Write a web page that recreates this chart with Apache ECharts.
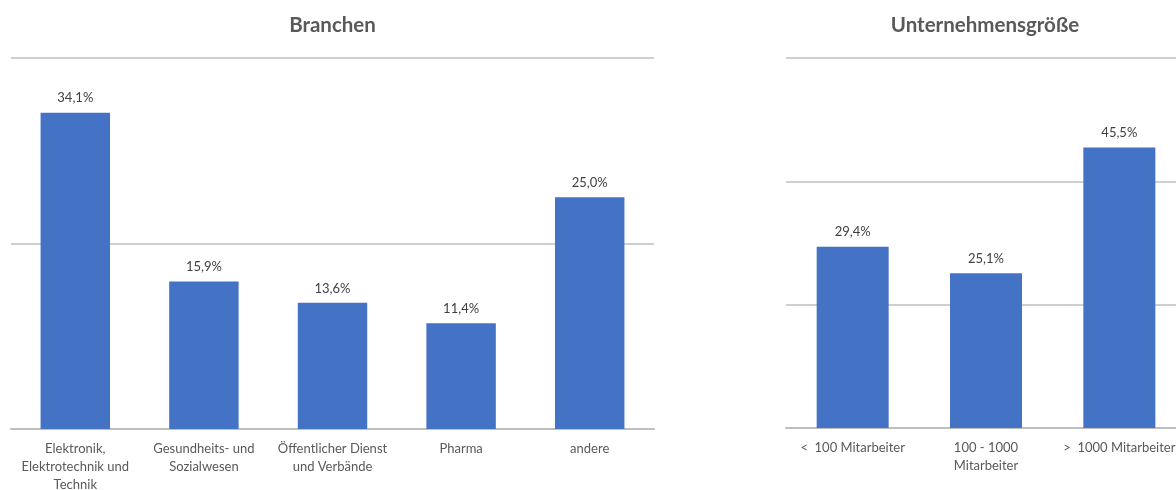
<!DOCTYPE html>
<html><head><meta charset="utf-8">
<script src="https://cdn.jsdelivr.net/npm/echarts@6/dist/echarts.min.js"></script>
<style>html,body{margin:0;padding:0;background:#fff}#c{width:1176px;height:490px}</style>
</head><body><div id="c"></div>
<script>
const branchenCategories = ['Elektronik,\nElektrotechnik und\nTechnik', 'Gesundheits- und\nSozialwesen', 'Öffentlicher Dienst\nund Verbände', 'Pharma', 'andere'];
const branchenValues = [34.1, 15.9, 13.6, 11.4, 25.0];
const groesseCategories = ['<  100 Mitarbeiter', '100 - 1000\nMitarbeiter', '>  1000 Mitarbeiter'];
const groesseValues = [29.4, 25.1, 45.5];
const titles = ['Branchen', 'Unternehmensgröße'];

const FONT = 'Lato, "Liberation Sans", sans-serif';
const chart = echarts.init(document.getElementById('c'), null, {renderer: 'canvas'});
const fmt = p => p.value.toFixed(1).replace('.', ',') + '%';
const xAxisBase = (idx, data) => ({
  type: 'category', gridIndex: idx, data: data,
  axisLine: {lineStyle: {color: '#bfbfbf', width: 2}},
  axisTick: {show: false},
  axisLabel: {color: '#595959', fontSize: 13, fontFamily: FONT, lineHeight: 18, margin: 11, interval: 0}
});
const yAxisBase = (idx, max) => ({
  type: 'value', gridIndex: idx, min: 0, max: max, interval: 20,
  axisLabel: {show: false}, axisLine: {show: false}, axisTick: {show: false},
  splitLine: {lineStyle: {color: '#bfbfbf', width: 1.5}}
});
const barSeries = (idx, data) => ({
  type: 'bar', xAxisIndex: idx, yAxisIndex: idx, data: data,
  barWidth: '54%',
  itemStyle: {color: '#4472C4'},
  label: {show: true, position: 'top', distance: 8, formatter: fmt, color: '#404040', fontSize: 13, fontFamily: FONT}
});
chart.setOption({
  animation: false,
  title: [
    {text: titles[0], left: 327.5, top: 10, textAlign: 'center', textStyle: {color: '#595959', fontSize: 20.5, fontWeight: 'bold', fontFamily: FONT}},
    {text: titles[1], left: 980, top: 10, textAlign: 'center', textStyle: {color: '#595959', fontSize: 20.5, fontWeight: 'bold', fontFamily: FONT}}
  ],
  grid: [
    {left: 11, width: 643, top: 58, bottom: 61, outerBoundsMode: 'none', containLabel: false},
    {left: 786, width: 400, top: 58, bottom: 62, outerBoundsMode: 'none', containLabel: false}
  ],
  xAxis: [xAxisBase(0, branchenCategories), xAxisBase(1, groesseCategories)],
  yAxis: [yAxisBase(0, 40), yAxisBase(1, 60)],
  series: [barSeries(0, branchenValues), barSeries(1, groesseValues)]
});
</script></body></html>
